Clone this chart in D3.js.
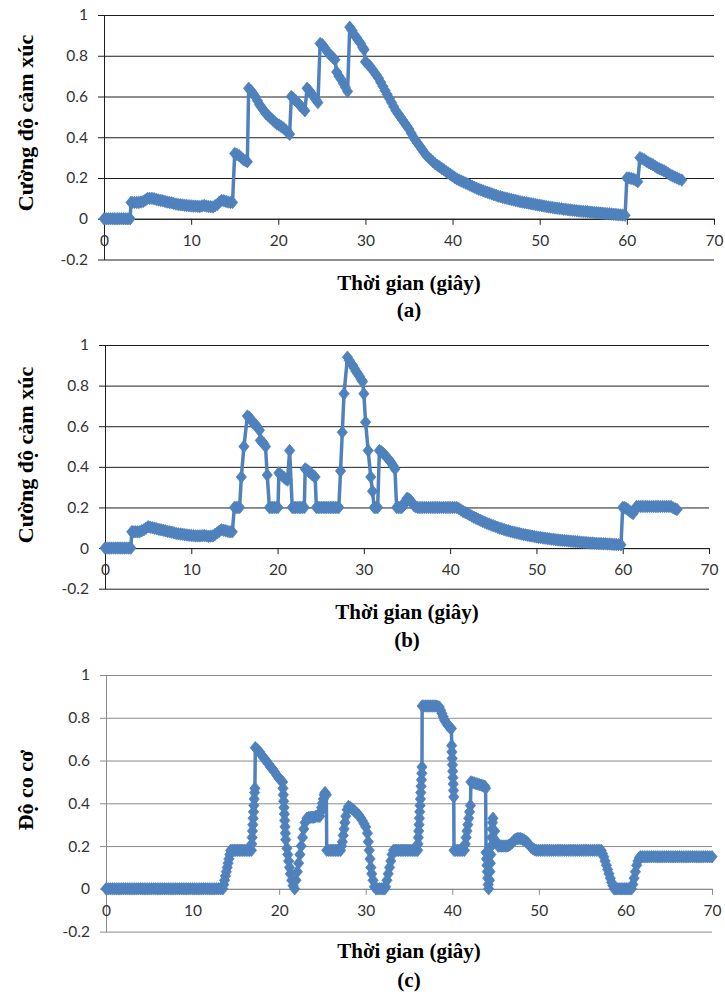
<!DOCTYPE html>
<html>
<head>
<meta charset="utf-8">
<script src="https://cdn.jsdelivr.net/npm/d3@7"></script>
<style>
  html, body { margin: 0; padding: 0; background: #ffffff; }
  svg { display: block; }
</style>
</head>
<body>
<svg id="fig" width="725" height="996"></svg>
<script>
// Axis ticks and text
const xTicks = [0, 10, 20, 30, 40, 50, 60, 70];
const yTicks = [-0.2, 0, 0.2, 0.4, 0.6, 0.8, 1];
const yTickLabels = ["-0.2", "0", "0.2", "0.4", "0.6", "0.8", "1"];
const titleEmotion = "Cường độ cảm xúc";
const titleMuscle = "Độ co cơ";
const titleTime = "Thời gian (giây)";
const captions = ["(a)", "(b)", "(c)"];

// (a) emotion intensity over time: [seconds, value]
const seriesA = [
  [0,0],[0.25,0],[0.5,0],[0.75,0],[1,0],[1.25,0],[1.5,0],[1.75,0],[2,0],[2.25,0],[2.5,0],[2.75,0],[3,0],
  [3.1,0.08],[3.25,0.08],[3.5,0.08],[3.75,0.08],[4,0.08],[4.25,0.082],[4.5,0.085],[4.75,0.092],[5,0.1],
  [5.25,0.1],[5.5,0.1],[5.75,0.098],[6,0.095],[6.25,0.092],[6.5,0.09],[6.75,0.088],[7,0.085],[7.25,0.082],
  [7.5,0.08],[7.75,0.078],[8,0.075],[8.25,0.072],[8.5,0.07],[8.75,0.069],[9,0.068],[9.25,0.066],[9.5,0.065],
  [9.75,0.064],[10,0.063],[10.25,0.062],[10.5,0.062],[10.75,0.061],[11,0.06],[11.25,0.063],[11.5,0.065],
  [11.75,0.062],[12,0.06],[12.25,0.059],[12.5,0.058],[12.75,0.064],[13,0.07],[13.25,0.082],[13.5,0.09],
  [13.75,0.088],[14,0.085],[14.25,0.082],[14.5,0.08],[14.75,0.08],
  [15,0.32],[15.25,0.315],[15.5,0.31],[15.75,0.3],[16,0.29],[16.25,0.285],[16.45,0.28],
  [16.6,0.64],[16.85,0.63],[17.1,0.615],[17.35,0.6],[17.6,0.58],[17.85,0.56],[18.1,0.545],[18.35,0.53],
  [18.6,0.515],[18.85,0.505],[19.1,0.495],[19.35,0.485],[19.6,0.475],[19.85,0.465],[20.1,0.46],[20.35,0.452],
  [20.6,0.445],[20.85,0.435],[21.1,0.425],[21.3,0.415],
  [21.5,0.6],[21.75,0.59],[22,0.58],[22.25,0.57],[22.5,0.555],[22.75,0.545],[23.05,0.53],
  [23.3,0.64],[23.55,0.63],[23.8,0.615],[24.05,0.6],[24.3,0.585],[24.55,0.57],
  [24.8,0.86],[25.05,0.855],[25.3,0.84],[25.55,0.825],[25.8,0.81],[26.05,0.8],[26.3,0.79],[26.5,0.78],
  [26.7,0.72],[26.95,0.7],[27.2,0.685],[27.45,0.665],[27.7,0.645],[27.95,0.625],
  [28.2,0.94],[28.45,0.925],[28.7,0.905],[28.95,0.89],[29.2,0.875],[29.45,0.86],[29.7,0.84],[29.85,0.83],
  [30,0.77],[30.25,0.76],[30.5,0.75],[30.75,0.735],[31,0.72],[31.25,0.705],[31.5,0.69],[31.75,0.67],
  [32,0.65],[32.25,0.63],[32.5,0.61],[32.75,0.59],[33,0.57],[33.25,0.55],[33.5,0.53],[33.75,0.515],
  [34,0.5],[34.25,0.485],[34.5,0.47],[34.75,0.455],[35,0.44],[35.25,0.42],[35.5,0.4],[35.75,0.385],
  [36,0.37],[36.25,0.355],[36.5,0.34],[36.75,0.325],[37,0.31],[37.25,0.3],[37.5,0.29],[37.75,0.28],
  [38,0.27],[38.25,0.262],[38.5,0.255],[38.75,0.247],[39,0.24],[39.25,0.232],[39.5,0.225],[39.75,0.217],
  [40,0.21],[40.25,0.202],[40.5,0.195],[40.75,0.19],[41,0.185],[41.25,0.18],[41.5,0.175],[41.75,0.17],
  [42,0.165],[42.25,0.16],[42.5,0.155],[42.75,0.15],[43,0.145],[43.25,0.141],[43.5,0.137],[43.75,0.133],
  [44,0.13],[44.25,0.126],[44.5,0.122],[44.75,0.118],[45,0.115],[45.25,0.111],[45.5,0.108],[45.75,0.105],
  [46,0.102],[46.25,0.1],[46.5,0.097],[46.75,0.094],[47,0.092],[47.25,0.089],[47.5,0.087],[47.75,0.084],
  [48,0.082],[48.25,0.08],[48.5,0.078],[48.75,0.076],[49,0.074],[49.25,0.072],[49.5,0.07],[49.75,0.068],
  [50,0.066],[50.25,0.064],[50.5,0.062],[50.75,0.06],[51,0.058],[51.25,0.057],[51.5,0.055],[51.75,0.053],
  [52,0.052],[52.25,0.05],[52.5,0.049],[52.75,0.047],[53,0.046],[53.25,0.044],[53.5,0.043],[53.75,0.042],
  [54,0.041],[54.25,0.039],[54.5,0.038],[54.75,0.037],[55,0.036],[55.25,0.035],[55.5,0.034],[55.75,0.033],
  [56,0.032],[56.25,0.031],[56.5,0.03],[56.75,0.029],[57,0.028],[57.25,0.027],[57.5,0.026],[57.75,0.025],
  [58,0.024],[58.25,0.023],[58.5,0.022],[58.75,0.021],[59,0.02],[59.25,0.019],[59.5,0.018],[59.8,0.017],
  [60,0.2],[60.25,0.2],[60.5,0.198],[60.75,0.195],[61,0.19],[61.25,0.182],
  [61.5,0.3],[61.75,0.295],[62,0.29],[62.25,0.282],[62.5,0.275],[62.75,0.27],[63,0.265],[63.25,0.258],
  [63.5,0.25],[63.75,0.245],[64,0.24],[64.25,0.235],[64.5,0.23],[64.75,0.222],[65,0.215],[65.25,0.21],
  [65.5,0.205],[65.75,0.2],[66,0.195],[66.3,0.19]
];

// (b) emotion intensity over time: [seconds, value]
const seriesB = [
  [0,0],[0.25,0],[0.5,0],[0.75,0],[1,0],[1.25,0],[1.5,0],[1.75,0],[2,0],[2.25,0],[2.5,0],[2.75,0],[3,0],
  [3.1,0.08],[3.25,0.08],[3.5,0.08],[3.75,0.08],[4,0.08],[4.25,0.085],[4.5,0.09],[4.75,0.098],[5,0.105],
  [5.25,0.103],[5.5,0.1],[5.75,0.098],[6,0.095],[6.25,0.092],[6.5,0.09],[6.75,0.088],[7,0.085],[7.25,0.082],
  [7.5,0.08],[7.75,0.078],[8,0.075],[8.25,0.072],[8.5,0.07],[8.75,0.069],[9,0.068],[9.25,0.066],[9.5,0.065],
  [9.75,0.063],[10,0.062],[10.25,0.061],[10.5,0.06],[10.75,0.06],[11,0.06],[11.25,0.061],[11.5,0.062],
  [11.75,0.06],[12,0.058],[12.25,0.059],[12.5,0.06],[12.75,0.067],[13,0.075],[13.25,0.083],[13.5,0.09],
  [13.75,0.088],[14,0.085],[14.25,0.082],[14.5,0.08],[14.75,0.08],
  [15,0.2],[15.2,0.2],[15.4,0.2],[15.6,0.2],[15.8,0.35],[16.1,0.5],[16.5,0.65],[16.7,0.645],[16.9,0.635],
  [17.1,0.62],[17.3,0.612],[17.5,0.605],[17.7,0.595],[17.9,0.58],[18,0.53],[18.2,0.525],[18.4,0.515],
  [18.6,0.5],[18.8,0.36],[19.05,0.2],[19.25,0.2],[19.45,0.2],[19.65,0.2],[19.85,0.2],[20.05,0.2],
  [20.15,0.37],[20.35,0.362],[20.55,0.355],[20.75,0.348],[20.95,0.34],[21.15,0.335],[21.4,0.48],
  [21.7,0.2],[21.9,0.2],[22.1,0.2],[22.3,0.2],[22.5,0.2],[22.7,0.2],[22.9,0.2],[23.1,0.2],
  [23.2,0.39],[23.4,0.385],[23.6,0.378],[23.8,0.37],[24,0.362],[24.2,0.355],[24.35,0.35],
  [24.5,0.2],[24.7,0.2],[24.9,0.2],[25.1,0.2],[25.3,0.2],[25.5,0.2],[25.7,0.2],[25.9,0.2],[26.1,0.2],
  [26.3,0.2],[26.5,0.2],[26.7,0.2],[26.9,0.2],[27.1,0.2],
  [27.3,0.38],[27.5,0.57],[27.7,0.76],[28.1,0.94],[28.3,0.925],[28.5,0.91],[28.7,0.9],[28.9,0.885],
  [29.1,0.87],[29.3,0.858],[29.5,0.845],[29.7,0.83],[29.85,0.82],[30,0.76],[30.2,0.62],[30.5,0.48],
  [30.8,0.35],[31,0.28],[31.2,0.2],[31.4,0.2],[31.6,0.2],
  [31.8,0.48],[32,0.475],[32.2,0.468],[32.4,0.46],[32.6,0.45],[32.8,0.44],[33,0.43],[33.2,0.418],
  [33.4,0.405],[33.6,0.39],[33.8,0.2],[34,0.2],[34.2,0.2],[34.4,0.2],[34.6,0.21],[34.8,0.23],[35,0.245],
  [35.2,0.242],[35.4,0.235],[35.6,0.222],[35.8,0.21],[36,0.203],
  [36.25,0.2],[36.5,0.2],[36.75,0.2],[37,0.2],[37.25,0.2],[37.5,0.2],[37.75,0.2],[38,0.2],[38.25,0.2],
  [38.5,0.2],[38.75,0.2],[39,0.2],[39.25,0.2],[39.5,0.2],[39.75,0.2],[40,0.2],[40.25,0.2],[40.5,0.2],
  [40.75,0.2],[41,0.195],[41.25,0.188],[41.5,0.18],[41.75,0.175],[42,0.17],[42.25,0.164],[42.5,0.158],
  [42.75,0.152],[43,0.147],[43.25,0.142],[43.5,0.137],[43.75,0.132],[44,0.127],[44.25,0.122],[44.5,0.118],
  [44.75,0.114],[45,0.11],[45.25,0.106],[45.5,0.102],[45.75,0.098],[46,0.095],[46.25,0.091],[46.5,0.088],
  [46.75,0.085],[47,0.082],[47.25,0.079],[47.5,0.077],[47.75,0.074],[48,0.072],[48.25,0.069],[48.5,0.067],
  [48.75,0.065],[49,0.063],[49.25,0.061],[49.5,0.059],[49.75,0.057],[50,0.055],[50.25,0.053],[50.5,0.052],
  [50.75,0.05],[51,0.049],[51.25,0.047],[51.5,0.046],[51.75,0.044],[52,0.043],[52.25,0.041],[52.5,0.04],
  [52.75,0.039],[53,0.038],[53.25,0.037],[53.5,0.036],[53.75,0.035],[54,0.034],[54.25,0.033],[54.5,0.032],
  [54.75,0.031],[55,0.03],[55.25,0.029],[55.5,0.028],[55.75,0.027],[56,0.026],[56.25,0.025],[56.5,0.025],
  [56.75,0.024],[57,0.023],[57.25,0.022],[57.5,0.022],[57.75,0.021],[58,0.021],[58.25,0.02],[58.5,0.02],
  [58.75,0.019],[59,0.018],[59.25,0.018],[59.5,0.017],[59.8,0.016],
  [60,0.2],[60.2,0.2],[60.4,0.195],[60.6,0.19],[60.8,0.182],[61,0.176],[61.2,0.17],[61.4,0.19],[61.6,0.205],
  [61.85,0.205],[62.1,0.205],[62.35,0.205],[62.6,0.205],[62.85,0.205],[63.1,0.205],[63.35,0.205],
  [63.6,0.205],[63.85,0.205],[64.1,0.205],[64.35,0.205],[64.6,0.205],[64.85,0.205],[65.1,0.205],
  [65.35,0.205],[65.6,0.205],[65.85,0.198],[66.1,0.193],[66.3,0.19]
];

// (c) muscle contraction over time: [seconds, value]
const seriesC = [
  [0,0],[0.25,0],[0.5,0],[0.75,0],[1,0],[1.25,0],[1.5,0],[1.75,0],[2,0],[2.25,0],[2.5,0],[2.75,0],[3,0],
  [3.25,0],[3.5,0],[3.75,0],[4,0],[4.25,0],[4.5,0],[4.75,0],[5,0],[5.25,0],[5.5,0],[5.75,0],[6,0],
  [6.25,0],[6.5,0],[6.75,0],[7,0],[7.25,0],[7.5,0],[7.75,0],[8,0],[8.25,0],[8.5,0],[8.75,0],[9,0],
  [9.25,0],[9.5,0],[9.75,0],[10,0],[10.25,0],[10.5,0],[10.75,0],[11,0],[11.25,0],[11.5,0],[11.75,0],
  [12,0],[12.25,0],[12.5,0],[12.75,0],[13,0],[13.25,0],[13.5,0],
  [13.6,0.02],[13.7,0.04],[13.8,0.06],[13.9,0.08],[14,0.1],[14.1,0.12],[14.2,0.14],[14.3,0.16],[14.4,0.18],
  [14.6,0.18],[14.8,0.18],[15,0.18],[15.2,0.18],[15.4,0.18],[15.6,0.18],[15.8,0.18],[16,0.18],[16.2,0.18],
  [16.4,0.18],[16.6,0.18],[16.8,0.18],
  [16.84,0.21],[16.88,0.24],[16.92,0.27],[16.96,0.3],[17,0.33],[17.04,0.36],[17.08,0.39],[17.12,0.42],
  [17.16,0.45],[17.2,0.47],[17.25,0.66],
  [17.5,0.65],[17.75,0.64],[18,0.625],[18.25,0.61],[18.5,0.6],[18.75,0.585],[19,0.57],[19.25,0.56],
  [19.5,0.545],[19.75,0.53],[20,0.515],[20.2,0.508],[20.4,0.5],
  [20.44,0.47],[20.48,0.44],[20.52,0.41],[20.56,0.38],[20.6,0.35],[20.64,0.32],[20.68,0.29],[20.72,0.26],
  [20.76,0.23],[20.9,0.19],[21,0.16],[21.1,0.13],[21.2,0.1],[21.3,0.07],[21.45,0.04],[21.6,0.015],[21.8,0],
  [21.95,0.04],[22.1,0.08],[22.25,0.12],[22.4,0.16],[22.55,0.2],[22.7,0.24],[22.85,0.28],[23,0.31],
  [23.2,0.33],[23.4,0.333],[23.6,0.335],[23.8,0.335],[24,0.335],[24.2,0.338],[24.4,0.34],[24.6,0.34],
  [24.7,0.34],[24.8,0.36],[24.9,0.38],[25,0.4],[25.1,0.42],[25.2,0.44],[25.3,0.45],[25.45,0.44],
  [25.5,0.18],[25.7,0.18],[25.9,0.18],[26.1,0.18],[26.3,0.18],[26.5,0.18],[26.7,0.18],[26.9,0.18],[27.1,0.18],
  [27.2,0.2],[27.3,0.22],[27.4,0.25],[27.5,0.28],[27.6,0.31],[27.7,0.34],[27.85,0.37],
  [28,0.385],[28.2,0.38],[28.4,0.375],[28.6,0.368],[28.8,0.36],[29,0.352],[29.2,0.345],[29.4,0.333],
  [29.6,0.32],[29.8,0.305],[30,0.29],
  [30.2,0.26],[30.3,0.22],[30.4,0.18],[30.5,0.14],[30.6,0.1],[30.7,0.07],[30.85,0.04],[31,0.01],
  [31.2,0],[31.4,0],[31.6,0],[31.8,0],[32,0],[32.2,0],[32.3,0.01],
  [32.45,0.04],[32.6,0.07],[32.75,0.1],[32.9,0.13],[33.05,0.16],[33.2,0.18],
  [33.4,0.18],[33.6,0.18],[33.8,0.18],[34,0.18],[34.2,0.18],[34.4,0.18],[34.6,0.18],[34.8,0.18],
  [35,0.18],[35.2,0.18],[35.4,0.18],[35.6,0.18],[35.8,0.18],[36,0.18],
  [36.04,0.21],[36.08,0.24],[36.12,0.27],[36.16,0.3],[36.2,0.33],[36.24,0.36],[36.28,0.39],[36.32,0.42],
  [36.36,0.45],[36.4,0.48],[36.44,0.51],[36.48,0.54],[36.5,0.57],[36.52,0.855],
  [36.7,0.855],[36.9,0.855],[37.1,0.855],[37.3,0.855],[37.5,0.855],[37.7,0.855],[37.9,0.855],[38.1,0.855],
  [38.3,0.853],[38.5,0.85],[38.65,0.835],[38.8,0.82],[38.95,0.805],[39.1,0.79],[39.25,0.78],[39.4,0.77],
  [39.55,0.762],[39.7,0.755],[39.9,0.75],
  [39.93,0.67],[39.96,0.64],[39.99,0.61],[40.02,0.58],[40.05,0.55],[40.08,0.52],[40.11,0.49],[40.14,0.46],
  [40.17,0.43],[40.2,0.18],[40.4,0.18],[40.6,0.18],[40.8,0.18],[41,0.18],[41.2,0.18],[41.4,0.18],
  [41.5,0.21],[41.6,0.24],[41.7,0.27],[41.8,0.3],[41.9,0.33],[42,0.36],[42.1,0.39],
  [42.15,0.5],[42.35,0.497],[42.55,0.495],[42.75,0.492],[42.95,0.49],[43.15,0.487],[43.35,0.485],
  [43.55,0.482],[43.75,0.48],[43.85,0.47],
  [43.9,0.17],[43.95,0.14],[44,0.11],[44.05,0.08],[44.1,0.05],[44.15,0.02],[44.2,0],
  [44.3,0.04],[44.35,0.08],[44.4,0.12],[44.45,0.16],[44.5,0.2],[44.55,0.24],[44.6,0.28],[44.65,0.31],
  [44.7,0.33],[44.9,0.27],[45.1,0.22],[45.3,0.2],[45.5,0.2],[45.7,0.2],[45.9,0.2],[46.1,0.2],[46.3,0.2],
  [46.5,0.203],[46.7,0.208],[46.9,0.215],[47.1,0.225],[47.3,0.232],[47.5,0.235],[47.7,0.235],[47.9,0.235],
  [48.1,0.232],[48.3,0.228],[48.5,0.222],[48.7,0.215],[48.9,0.205],[49.1,0.195],[49.3,0.188],[49.5,0.183],
  [49.7,0.18],[49.95,0.18],[50.2,0.18],[50.45,0.18],[50.7,0.18],[50.95,0.18],[51.2,0.18],[51.45,0.18],
  [51.7,0.18],[51.95,0.18],[52.2,0.18],[52.45,0.18],[52.7,0.18],[52.95,0.18],[53.2,0.18],[53.45,0.18],
  [53.7,0.18],[53.95,0.18],[54.2,0.18],[54.45,0.18],[54.7,0.18],[54.95,0.18],[55.2,0.18],[55.45,0.18],
  [55.7,0.18],[55.95,0.18],[56.2,0.18],[56.45,0.18],[56.7,0.18],[56.95,0.18],[57.2,0.18],
  [57.35,0.165],[57.5,0.15],[57.65,0.13],[57.8,0.11],[57.95,0.09],[58.1,0.07],[58.25,0.05],[58.4,0.03],
  [58.55,0.015],[58.7,0],[58.9,0],[59.1,0],[59.3,0],[59.5,0],[59.7,0],[59.9,0],[60.1,0],[60.3,0],[60.5,0],
  [60.7,0],[60.85,0.02],[61,0.05],[61.15,0.08],[61.3,0.11],[61.45,0.13],[61.6,0.145],[61.75,0.15],
  [62,0.15],[62.25,0.15],[62.5,0.15],[62.75,0.15],[63,0.15],[63.25,0.15],[63.5,0.15],[63.75,0.15],
  [64,0.15],[64.25,0.15],[64.5,0.15],[64.75,0.15],[65,0.15],[65.25,0.15],[65.5,0.15],[65.75,0.15],
  [66,0.15],[66.25,0.15],[66.5,0.15],[66.75,0.15],[67,0.15],[67.25,0.15],[67.5,0.15],[67.75,0.15],
  [68,0.15],[68.25,0.15],[68.5,0.15],[68.75,0.15],[69,0.15],[69.25,0.15],[69.5,0.15],[69.75,0.15],[70,0.15]
];

// Layout of the three stacked panels
const panels = [
  { data: seriesA, left: 104, right: 714, top: 15, bottom: 259.5,
    gridColor: "#1e1e1e", axisColor: "#1e1e1e",
    yTitle: titleEmotion, yTitleY: 123, xTitleY: 290, captionY: 317, caption: captions[0] },
  { data: seriesB, left: 105, right: 709, top: 345, bottom: 588.7,
    gridColor: "#1e1e1e", axisColor: "#1e1e1e",
    yTitle: titleEmotion, yTitleY: 455, xTitleY: 619, captionY: 647, caption: captions[1] },
  { data: seriesC, left: 106, right: 712, top: 675, bottom: 931.6,
    gridColor: "#8a8a8a", axisColor: "#8a8a8a",
    yTitle: titleMuscle, yTitleY: 790, xTitleY: 958, captionY: 987, caption: captions[2] }
];

const lineColor = "#4F81BD";
const tickFont = "Lato, 'Open Sans', sans-serif";
const titleFont = "'Liberation Serif', 'Times New Roman', serif";

const svg = d3.select("#fig");

// Diamond marker, a touch taller than wide
const diamond = {
  draw(ctx, size) {
    const r = Math.sqrt(size / 2);
    ctx.moveTo(0, -r);
    ctx.lineTo(r * 0.82, 0);
    ctx.lineTo(0, r);
    ctx.lineTo(-r * 0.82, 0);
    ctx.closePath();
  }
};
const markerPath = d3.symbol().type(diamond).size(78)();

panels.forEach(p => {
  const x = d3.scaleLinear().domain([0, 70]).range([p.left, p.right]);
  const y = d3.scaleLinear().domain([-0.2, 1]).range([p.bottom, p.top]);
  const g = svg.append("g");

  // Horizontal gridlines
  g.append("g")
    .attr("transform", `translate(${p.left},0)`)
    .call(d3.axisLeft(y).tickValues(yTicks).tickFormat("").tickSize(-(p.right - p.left)).tickSizeOuter(0))
    .call(a => a.select(".domain").remove())
    .call(a => a.selectAll(".tick line").attr("stroke", p.gridColor).attr("stroke-width", 1));

  // Vertical axis with labels
  g.append("g")
    .attr("transform", `translate(${p.left},0)`)
    .call(d3.axisLeft(y).tickValues(yTicks).tickFormat((d, i) => yTickLabels[i])
      .tickSize(6).tickSizeOuter(0).tickPadding(10))
    .call(a => a.select(".domain").attr("stroke", p.axisColor))
    .call(a => a.selectAll(".tick line").attr("stroke", p.axisColor))
    .call(a => a.selectAll("text").attr("fill", "#333333")
      .style("font-family", tickFont).style("font-size", "15.5px"));

  // Horizontal axis crossing at zero
  g.append("g")
    .attr("transform", `translate(0,${y(0)})`)
    .call(d3.axisBottom(x).tickValues(xTicks).tickFormat(d3.format("d"))
      .tickSize(6).tickSizeOuter(0).tickPadding(10))
    .call(a => a.select(".domain").attr("stroke", p.axisColor))
    .call(a => a.selectAll(".tick line").attr("stroke", p.axisColor))
    .call(a => a.selectAll("text").attr("fill", "#333333")
      .style("font-family", tickFont).style("font-size", "15.5px"));

  // Series line
  const line = d3.line().x(d => x(d[0])).y(d => y(d[1]));
  g.append("path")
    .datum(p.data)
    .attr("d", line)
    .attr("fill", "none")
    .attr("stroke", lineColor)
    .attr("stroke-width", 3.5)
    .attr("stroke-linejoin", "round");

  // Diamond markers
  g.append("g")
    .selectAll("path")
    .data(p.data)
    .join("path")
    .attr("transform", d => `translate(${x(d[0])},${y(d[1])})`)
    .attr("d", markerPath)
    .attr("fill", lineColor)
    .attr("stroke", lineColor)
    .attr("stroke-width", 0.8);

  // Axis titles and caption
  const cx = (p.left + p.right) / 2;
  g.append("text")
    .attr("transform", `translate(25,${p.yTitleY}) rotate(-90)`)
    .attr("text-anchor", "middle")
    .attr("dy", "0.35em")
    .style("font-family", titleFont).style("font-weight", "bold").style("font-size", "22px")
    .text(p.yTitle);

  g.append("text")
    .attr("x", cx).attr("y", p.xTitleY)
    .attr("text-anchor", "middle")
    .style("font-family", titleFont).style("font-weight", "bold").style("font-size", "21px")
    .text(titleTime);

  g.append("text")
    .attr("x", cx).attr("y", p.captionY)
    .attr("text-anchor", "middle")
    .style("font-family", titleFont).style("font-weight", "bold").style("font-size", "21px")
    .text(p.caption);
});
</script>
</body>
</html>
